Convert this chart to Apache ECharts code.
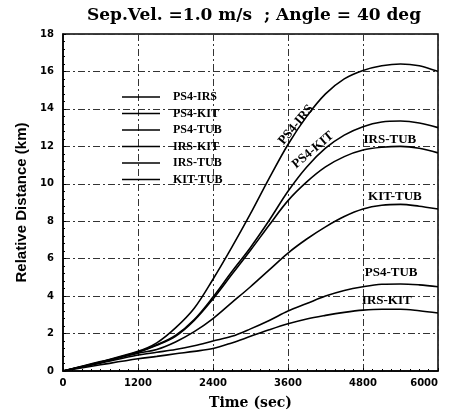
<!DOCTYPE html>
<html>
<head>
<meta charset="utf-8">
<script src="https://cdn.jsdelivr.net/npm/echarts@6/dist/echarts.min.js"></script>
<style>
  html,body{margin:0;padding:0;background:#fff;}
  #chart{width:449px;height:415px;}
</style>
</head>
<body>
<div id="chart"></div>
<script>
// time (sec) sample points shared by all curves
var times = [0, 600, 1200, 1500, 1800, 2100, 2400, 2700, 3000, 3300, 3600, 3900, 4200, 4500, 4800, 5100, 5400, 5700, 6000]

// relative distance (km)
var ps4Irs = [0, 0.5, 1.05, 1.5, 2.3, 3.35, 4.9, 6.6, 8.4, 10.3, 12.1, 13.6, 14.8, 15.6, 16.05, 16.3, 16.4, 16.3, 16.0]
var ps4Kit = [0, 0.48, 1.02, 1.4, 1.9, 2.75, 3.95, 5.3, 6.6, 8.05, 9.6, 10.9, 11.9, 12.6, 13.05, 13.3, 13.35, 13.25, 13.0]
var ps4Tub = [0, 0.42, 0.85, 1.0, 1.15, 1.35, 1.6, 1.85, 2.25, 2.7, 3.2, 3.6, 4.0, 4.3, 4.5, 4.63, 4.65, 4.6, 4.5]
var irsKit = [0, 0.33, 0.65, 0.78, 0.92, 1.05, 1.2, 1.5, 1.85, 2.2, 2.52, 2.78, 2.97, 3.13, 3.25, 3.3, 3.3, 3.22, 3.1]
var irsTub = [0, 0.47, 1.0, 1.37, 1.85, 2.7, 3.85, 5.15, 6.45, 7.8, 9.1, 10.1, 10.9, 11.45, 11.8, 11.95, 12.0, 11.9, 11.65]
var kitTub = [0, 0.45, 0.95, 1.15, 1.55, 2.1, 2.8, 3.65, 4.5, 5.4, 6.3, 7.05, 7.7, 8.25, 8.65, 8.85, 8.9, 8.8, 8.65]

var names = ['PS4-IRS', 'PS4-KIT', 'PS4-TUB', 'IRS-KIT', 'IRS-TUB', 'KIT-TUB']
var values = [ps4Irs, ps4Kit, ps4Tub, irsKit, irsTub, kitTub]

// curve labels: [text, time, distance, rotation deg]
var curveLabels = [
  ['PS4-IRS', 3730, 13.15, 50],
  ['PS4-KIT', 4000, 11.8, 40],
  ['IRS-TUB', 5230, 12.35, 0],
  ['KIT-TUB', 5310, 9.3, 0],
  ['PS4-TUB', 5250, 5.25, 0],
  ['IRS-KIT', 5180, 3.75, 0]
]

var serif = 'DejaVu Serif'
var gridLine = {show: true, lineStyle: {color: '#333', width: 1, type: [7, 3, 2, 3]}}

var chart = echarts.init(document.getElementById('chart'))
var series = []
for (var i = 0; i < names.length; i++) {
  var pts = []
  for (var j = 0; j < times.length; j++) pts.push([times[j], values[i][j]])
  series.push({name: names[i], type: 'line', data: pts, smooth: 0.35, symbol: 'none',
    lineStyle: {color: '#000', width: 1.6}, itemStyle: {color: '#000'}})
}

var options = {
  animation: false,
  title: {
    text: 'Sep.Vel. =1.0 m/s  ; Angle = 40 deg',
    left: 249, top: 2, textAlign: 'center',
    textStyle: {fontFamily: serif, fontWeight: 'bold', fontSize: 17, color: '#000'}
  },
  legend: {
    orient: 'vertical', left: 117, top: 86,
    itemWidth: 38, itemHeight: 14, itemGap: 4.5,
    icon: 'path://M0,6 L38,6 L38,7.4 L0,7.4 Z',
    textStyle: {fontFamily: 'Liberation Serif', fontWeight: 'bold', fontSize: 12, color: '#000', padding: [0, 0, 0, 8]},
    data: names
  },
  grid: {left: 63, right: 11, top: 34, bottom: 44, show: true, borderColor: '#000', borderWidth: 1.5},
  xAxis: {
    type: 'value', min: 0, max: 6000, interval: 1200,
    name: 'Time (sec)', nameLocation: 'middle', nameGap: 25,
    nameTextStyle: {fontFamily: serif, fontWeight: 'bold', fontSize: 14, color: '#000'},
    axisLine: {lineStyle: {color: '#000', width: 1.5}},
    axisTick: {show: true, inside: true, length: 3, lineStyle: {color: '#000'}},
    minorTick: {show: true, splitNumber: 8, length: 2, lineStyle: {color: '#000'}},
    axisLabel: {fontFamily: 'DejaVu Sans', fontWeight: 'bold', fontSize: 10, color: '#000', margin: 7, alignMaxLabel: 'right',
      formatter: function (v) { return String(v) }},
    splitLine: gridLine
  },
  yAxis: {
    type: 'value', min: 0, max: 18, interval: 2,
    name: 'Relative Distance (km)', nameLocation: 'middle', nameGap: 28,
    nameTextStyle: {fontFamily: 'Liberation Sans', fontWeight: 'bold', fontSize: 15, color: '#000'},
    axisLine: {lineStyle: {color: '#000', width: 1.5}},
    axisTick: {show: true, inside: true, length: 3, lineStyle: {color: '#000'}},
    minorTick: {show: true, splitNumber: 5, length: 2, lineStyle: {color: '#000'}},
    axisLabel: {fontFamily: 'DejaVu Sans', fontWeight: 'bold', fontSize: 10, color: '#000', margin: 9},
    splitLine: gridLine
  },
  series: series
}
chart.setOption(options)

// place curve labels from data coordinates
var graphics = curveLabels.map(function (c) {
  var p = chart.convertToPixel({gridIndex: 0}, [c[1], c[2]])
  return {type: 'text', x: p[0], y: p[1], rotation: c[3] * Math.PI / 180,
    style: {text: c[0], fill: '#000', font: 'bold 13px "Liberation Serif"', align: 'center', verticalAlign: 'middle'}}
})
chart.setOption({graphic: graphics})
</script>
</body>
</html>
